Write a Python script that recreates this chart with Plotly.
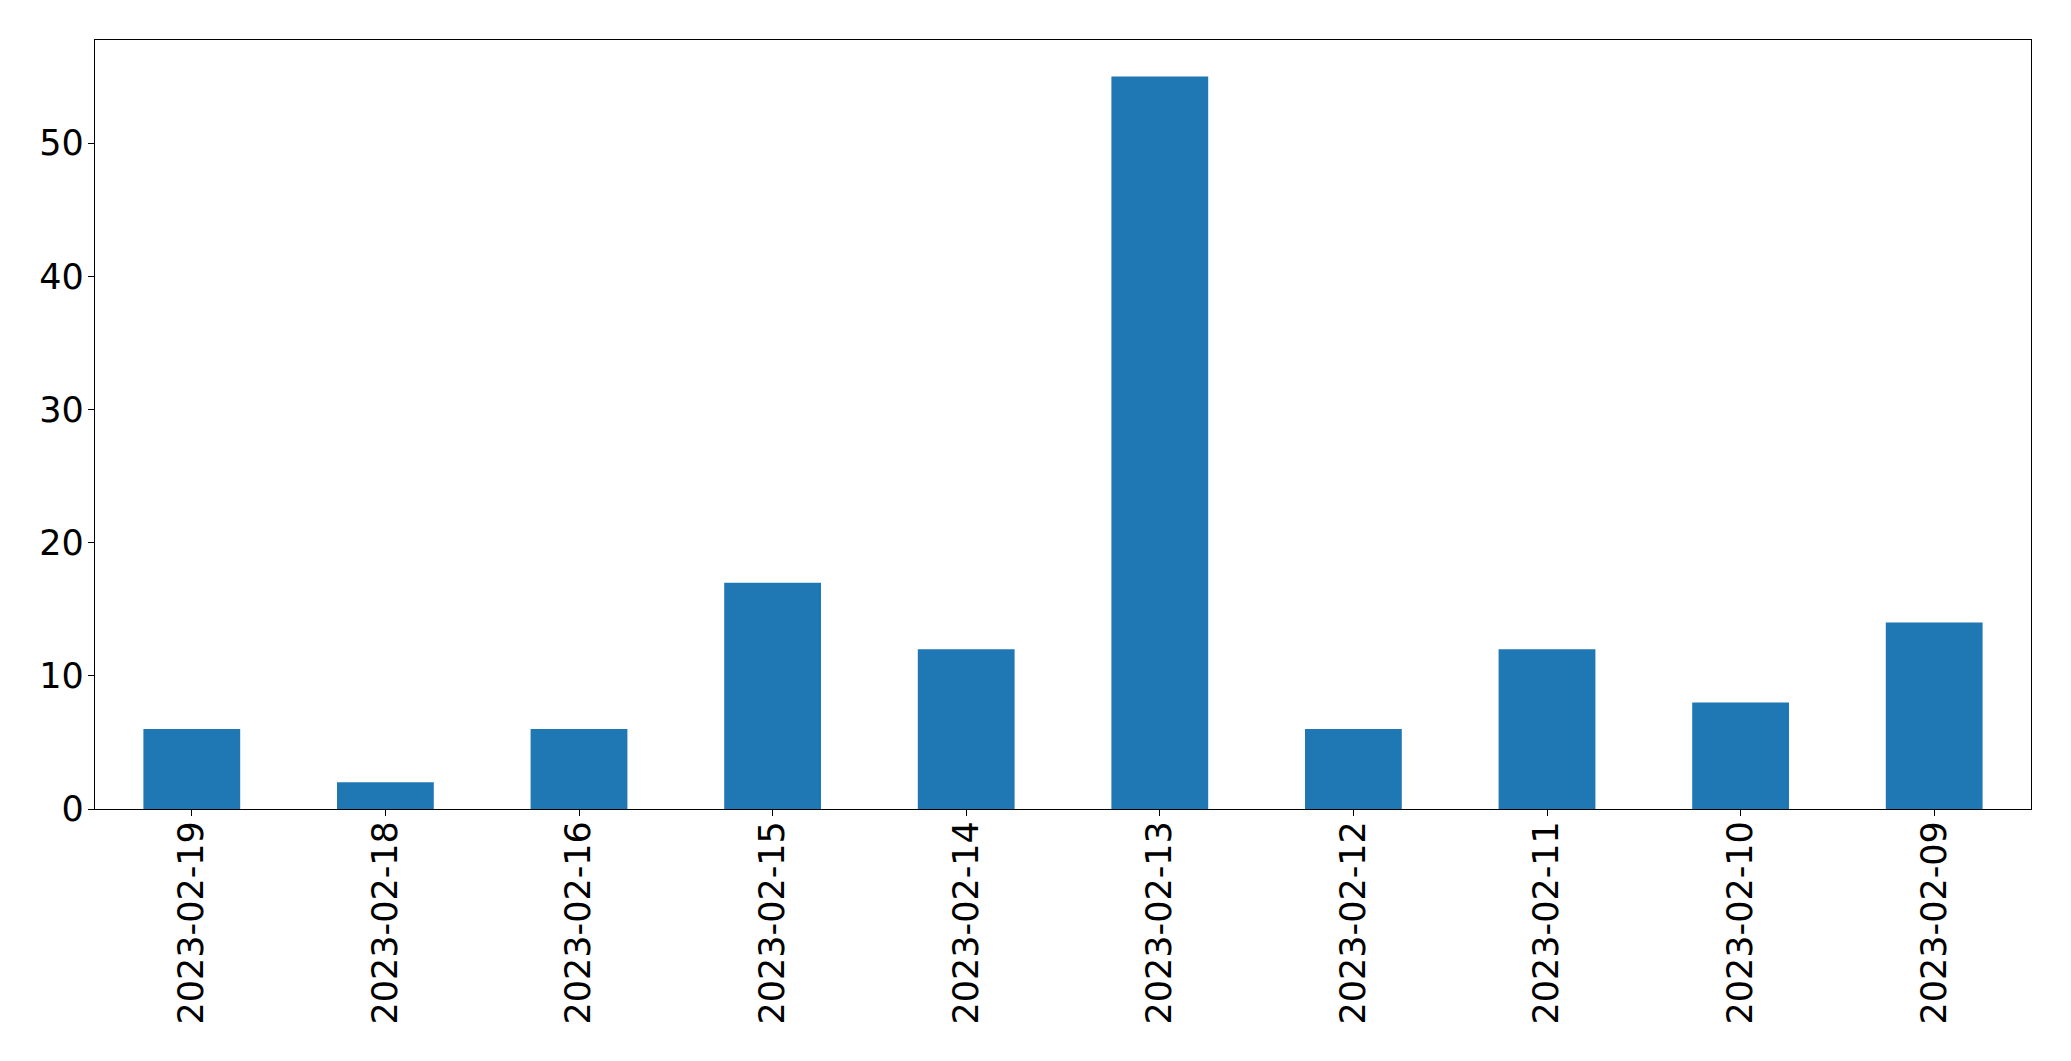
import plotly.graph_objects as go

dates = ["2023-02-19", "2023-02-18", "2023-02-16", "2023-02-15", "2023-02-14",
         "2023-02-13", "2023-02-12", "2023-02-11", "2023-02-10", "2023-02-09"]
counts = [6, 2, 6, 17, 12, 55, 6, 12, 8, 14]
y_ticks = [0, 10, 20, 30, 40, 50]

fig = go.Figure(go.Bar(x=dates, y=counts, marker=dict(color="#1f77b4", line=dict(width=0))))

fig.update_layout(
    width=2063, height=1053,
    margin=dict(l=86.5, r=39.5, t=31.5, b=252, pad=0),
    paper_bgcolor="white", plot_bgcolor="white",
    font=dict(family="DejaVu Sans", size=35, color="black"),
    bargap=0.5, showlegend=False,
)
fig.update_xaxes(
    type="category", range=[-0.5, len(dates) - 0.5], tickangle=-90,
    showline=True, mirror=True, linecolor="black", linewidth=1.3,
    ticks="outside", ticklen=6, tickwidth=1.3, tickcolor="black",
    showgrid=False, zeroline=False, ticklabelstandoff=-9,
)
fig.update_yaxes(
    range=[0, max(counts) * 1.05], tickvals=y_ticks,
    showline=True, mirror=True, linecolor="black", linewidth=1.3,
    ticks="outside", ticklen=6, tickwidth=1.3, tickcolor="black",
    showgrid=False, zeroline=False, ticklabelstandoff=-3,
)
fig.write_html("out.html")
